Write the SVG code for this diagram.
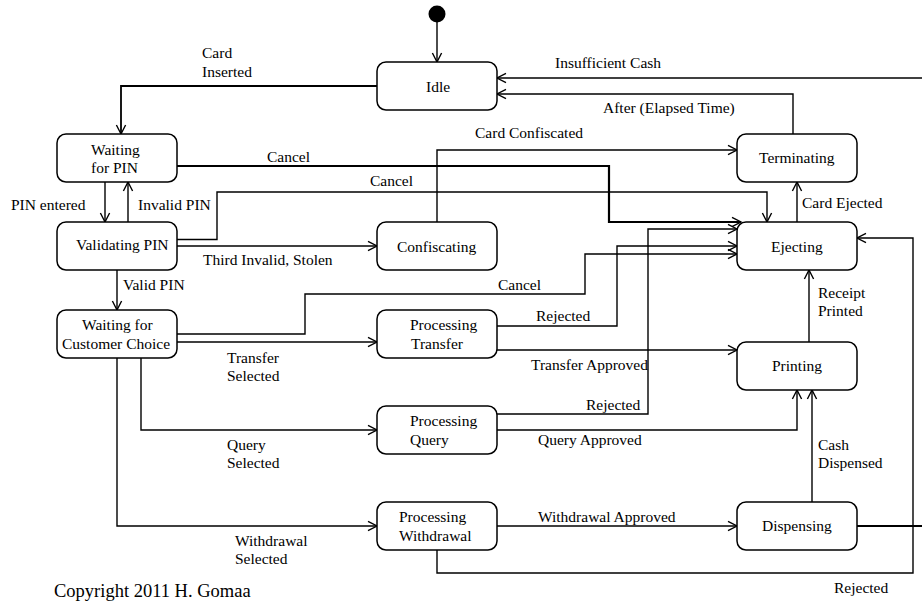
<svg xmlns="http://www.w3.org/2000/svg" width="922" height="601" viewBox="0 0 922 601" font-family="'Liberation Serif', 'Times New Roman', serif" font-size="15.5">
<style>
.node rect{fill:#fff;stroke:#000;stroke-width:1.5}
.c{fill:none;stroke:#000;stroke-width:1.4}
.t{stroke-width:2.2}
.a{marker-end:url(#arr)}
</style>
<defs>
<marker id="arr" viewBox="-11 -7 13 14" refX="0" refY="0" markerWidth="13" markerHeight="14" markerUnits="userSpaceOnUse" orient="auto">
<path d="M-9,-4.6 L0,0 L-9,4.6" fill="none" stroke="#000" stroke-width="1.4"/>
</marker>
</defs>
<rect width="922" height="601" fill="#fff"/>
<g id="connectors">
<circle cx="437" cy="14" r="8.5" fill="#000"/>
<path class="c a" d="M437,22 V62"/>
<path class="c a" d="M377,86 H121 V134" style="stroke-width:1.8"/>
<path class="c a" d="M105,182 V222"/>
<path class="c a" d="M128,222 V182"/>
<path class="c a" d="M117,270 V310"/>
<path class="c t a" d="M177,166 H609 V222 H741"/>
<path class="c a" d="M177,239.5 H217 V192 H767 V222"/>
<path class="c a" d="M177,246 H377"/>
<path class="c a" d="M437,222 V150 H737"/>
<path class="c a" d="M793,134 V94 H497"/>
<path class="c a" d="M922,78 H497"/>
<path class="c t" d="M857,526 H922"/>
<path class="c a" d="M797,222 V182"/>
<path class="c a" d="M177,334 H305 V294 H585 V254 H737"/>
<path class="c a" d="M177,342 H377"/>
<path class="c a" d="M497,326 H617 V246 H737"/>
<path class="c a" d="M497,350 H737"/>
<path class="c a" d="M809,342 V270"/>
<path class="c a" d="M141,358 V430 H377"/>
<path class="c a" d="M497,414 H648 V229 H737"/>
<path class="c a" d="M497,430 H797 V390"/>
<path class="c a" d="M117,358 V526 H377"/>
<path class="c a" d="M497,526 H737"/>
<path class="c a" d="M812,502 V390"/>
<path class="c a" d="M437,550 V573 H913 V238 H857"/>
</g>
<g id="labels">
<text x="202" y="58">Card</text>
<text x="202" y="76.5">Inserted</text>
<text x="267" y="161.5">Cancel</text>
<text x="370" y="185.5">Cancel</text>
<text x="11" y="210">PIN entered</text>
<text x="138" y="210">Invalid PIN</text>
<text x="203" y="265">Third Invalid, Stolen</text>
<text x="123" y="290">Valid PIN</text>
<text x="227" y="362.5">Transfer</text>
<text x="227" y="381">Selected</text>
<text x="475" y="137.5">Card Confiscated</text>
<text x="555" y="67.5">Insufficient Cash</text>
<text x="603" y="113">After (Elapsed Time)</text>
<text x="802" y="208">Card Ejected</text>
<text x="498" y="290">Cancel</text>
<text x="536" y="320.5">Rejected</text>
<text x="531" y="369.5">Transfer Approved</text>
<text x="818" y="298">Receipt</text>
<text x="818" y="316">Printed</text>
<text x="586" y="409.5">Rejected</text>
<text x="538" y="444.5">Query Approved</text>
<text x="818" y="449.5">Cash</text>
<text x="818" y="468">Dispensed</text>
<text x="227" y="449.5">Query</text>
<text x="227" y="468">Selected</text>
<text x="235" y="545.5">Withdrawal</text>
<text x="235" y="564">Selected</text>
<text x="538" y="521.5">Withdrawal Approved</text>
<text x="834" y="593">Rejected</text>
<text x="54" y="596.5" font-size="18.5">Copyright 2011 H. Gomaa</text>
</g>
<g id="idle" class="node"><rect x="377" y="62" width="120" height="48" rx="9"/><text x="426" y="92">Idle</text></g>
<g id="waiting-for-pin" class="node"><rect x="57" y="134" width="120" height="48" rx="9"/><text x="91" y="154.5">Waiting</text><text x="91" y="172.5">for PIN</text></g>
<g id="validating-pin" class="node"><rect x="57" y="222" width="120" height="48" rx="9"/><text x="76" y="250">Validating PIN</text></g>
<g id="waiting-for-customer-choice" class="node"><rect x="57" y="310" width="120" height="48" rx="9"/><text x="82" y="329.5">Waiting for</text><text x="62" y="349">Customer Choice</text></g>
<g id="confiscating" class="node"><rect x="377" y="222" width="120" height="48" rx="9"/><text x="397" y="252">Confiscating</text></g>
<g id="processing-transfer" class="node"><rect x="377" y="310" width="120" height="48" rx="9"/><text x="410" y="329.5">Processing</text><text x="411" y="349">Transfer</text></g>
<g id="processing-query" class="node"><rect x="377" y="406" width="120" height="48" rx="9"/><text x="410" y="425.5">Processing</text><text x="410" y="444.5">Query</text></g>
<g id="processing-withdrawal" class="node"><rect x="377" y="502" width="120" height="48" rx="9"/><text x="399" y="521.5">Processing</text><text x="399" y="541">Withdrawal</text></g>
<g id="terminating" class="node"><rect x="737" y="134" width="120" height="48" rx="9"/><text x="759" y="163">Terminating</text></g>
<g id="ejecting" class="node"><rect x="737" y="222" width="120" height="48" rx="9"/><text x="771" y="252">Ejecting</text></g>
<g id="printing" class="node"><rect x="737" y="342" width="120" height="48" rx="9"/><text x="772" y="370.5">Printing</text></g>
<g id="dispensing" class="node"><rect x="737" y="502" width="120" height="48" rx="9"/><text x="762" y="530.5">Dispensing</text></g>
</svg>
